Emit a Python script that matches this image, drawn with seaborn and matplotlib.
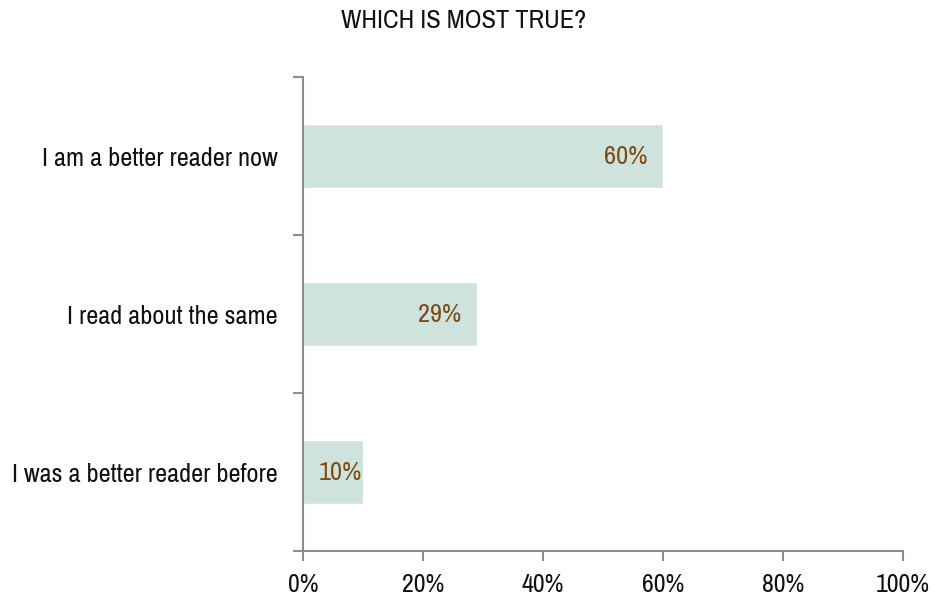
import matplotlib
matplotlib.use("Agg")
import matplotlib.pyplot as plt
from matplotlib.ticker import FixedLocator, PercentFormatter
import seaborn as sns
import pandas as pd

categories = ["I am a better reader now", "I read about the same", "I was a better reader before"]
values = [60, 29, 10]
x_ticks = [0, 20, 40, 60, 80, 100]

sns.set_theme(style="white")
plt.rcParams["font.family"] = ["Archivo Narrow", "DejaVu Sans"]

df = pd.DataFrame({"answer": categories, "share": values})

fig = plt.figure(figsize=(9.35, 5.96), dpi=100)
ax = fig.add_axes([0.324, 0.0755, 0.6418, 0.7953])

sns.barplot(data=df, x="share", y="answer", orient="h", color="#cfe3de",
            saturation=1, width=0.4, ax=ax)

ax.set_xlim(0, 100)
ax.set_ylim(2.5, -0.5)
ax.set_xticks(x_ticks)
ax.xaxis.set_major_formatter(PercentFormatter(decimals=0))
ax.set_xlabel("")
ax.set_ylabel("")

for spine in ["top", "right"]:
    ax.spines[spine].set_visible(False)
for spine in ["left", "bottom"]:
    ax.spines[spine].set_color("#8c8c8c")
    ax.spines[spine].set_linewidth(1.5)

# category separators on the value axis
ax.yaxis.set_minor_locator(FixedLocator([-0.5, 0.5, 1.5, 2.5]))
ax.tick_params(axis="y", which="major", length=0, pad=18, labelsize=19, labelcolor="#111111")
ax.tick_params(axis="y", which="minor", length=7, width=1.5, color="#8c8c8c", direction="out", left=True)
ax.tick_params(axis="x", which="major", length=7, width=1.5, color="#8c8c8c", direction="out",
               bottom=True, labelsize=18.7, labelcolor="#111111", pad=9)

# value labels sit inside the bar end; short bars keep the label flush with the end
for i, v in enumerate(values):
    shift = -11 if v >= 20 else -1
    ax.annotate(f"{v}%", xy=(v, i), xytext=(shift, 0), textcoords="offset points",
                ha="right", va="center", fontsize=19, color="#7f4a14")

fig.text(0.496, 0.965, "WHICH IS MOST TRUE?", ha="center", va="center",
         fontsize=19, color="#111111")

fig.savefig("out.png", dpi=100)
